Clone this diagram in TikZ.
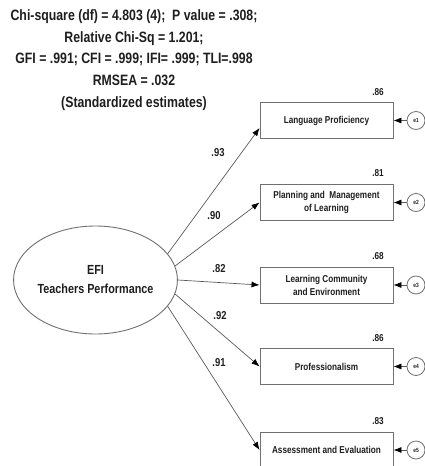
\documentclass[tikz,border=0pt]{standalone}
\usepackage{fontspec}
\setmainfont{Liberation Sans}[FakeStretch=0.82]
\usetikzlibrary{arrows.meta,shapes.geometric}
\definecolor{ink}{HTML}{1E1E1E}
\definecolor{linec}{HTML}{5A5A5A}
\definecolor{boxc}{HTML}{707070}
\tikzset{
  hdr/.style={align=center, text=ink, font=\fontsize{15}{21.7}\selectfont\bfseries, inner sep=0},
  ell/.style={ellipse, draw=boxc, line width=0.9pt, minimum width=135, minimum height=108, inner sep=0, align=center, text=ink, font=\fontsize{13.2}{19}\selectfont\bfseries},
  obox/.style={rectangle, draw=boxc, line width=0.9pt, minimum width=133, minimum height=36, inner sep=0, align=center, text=ink, font=\fontsize{10}{13}\selectfont\bfseries},
  errc/.style={circle, draw=boxc, line width=0.8pt, minimum size=18, inner sep=0, text=ink, font=\fontsize{6}{6}\selectfont\bfseries},
  ldg/.style={draw=linec, line width=0.7pt, -{Latex[length=8pt,width=6pt,color=black]}},
  earr/.style={draw=linec, line width=0.7pt, -{Latex[length=8pt,width=6pt,color=black]}},
  coef/.style={text=ink, inner sep=0, font=\fontsize{11.5}{12}\selectfont\bfseries},
  r2/.style={text=ink, inner sep=0, font=\fontsize{10}{11}\selectfont\bfseries}
}
\begin{document}
\begin{tikzpicture}[x=1pt,y=-1pt]
\useasboundingbox (0,0) rectangle (425,466);
\node[hdr] (H) at (134,60) {Chi-square (df) = 4.803 (4);\ \ P value = .308;\\Relative Chi-Sq = 1.201;\\GFI = .991; CFI = .999; IFI= .999; TLI=.998\\RMSEA = .032\\(Standardized estimates)};
\node[ell] (F) at (95.5,280) {EFI\\Teachers Performance};
\node[obox] (b1) at (326.5,120.5) {Language Proficiency};
\node[obox] (b2) at (326.5,202.5) {Planning and\ \ Management\\of Learning};
\node[obox] (b3) at (326.5,285) {Learning Community\\and Environment};
\node[obox] (b4) at (326.5,366.5) {Professionalism};
\node[obox] (b5) at (326.5,450) {Assessment and Evaluation};
\node[errc] (e1) at (416,120.5) {e1};
\node[errc] (e2) at (416,202.5) {e2};
\node[errc] (e3) at (416,285) {e3};
\node[errc] (e4) at (416,366.5) {e4};
\node[errc] (e5) at (416,450) {e5};
\node[r2] (r1) at (378,92) {.86};
\node[r2] (r2) at (378,173) {.81};
\node[r2] (r3) at (378,256) {.68};
\node[r2] (r4) at (378,338) {.86};
\node[r2] (r5) at (378,421) {.83};
\draw[ldg] (F.20) -- ([yshift=-7.5pt]b1.west);
\draw[ldg] (F.10) -- (b2.west);
\draw[ldg] (F.0) -- (b3.west);
\draw[ldg] (F.-10) -- (b4.west);
\draw[ldg] (F.-20) -- (b5.west);
\node[coef] (c1) at (218,153) {.93};
\node[coef] (c2) at (214,216) {.90};
\node[coef] (c3) at (219,269) {.82};
\node[coef] (c4) at (220,316) {.92};
\node[coef] (c5) at (219,363) {.91};
\draw[earr] (e1) -- (b1);
\draw[earr] (e2) -- (b2);
\draw[earr] (e3) -- (b3);
\draw[earr] (e4) -- (b4);
\draw[earr] (e5) -- (b5);
\end{tikzpicture}
\end{document}
